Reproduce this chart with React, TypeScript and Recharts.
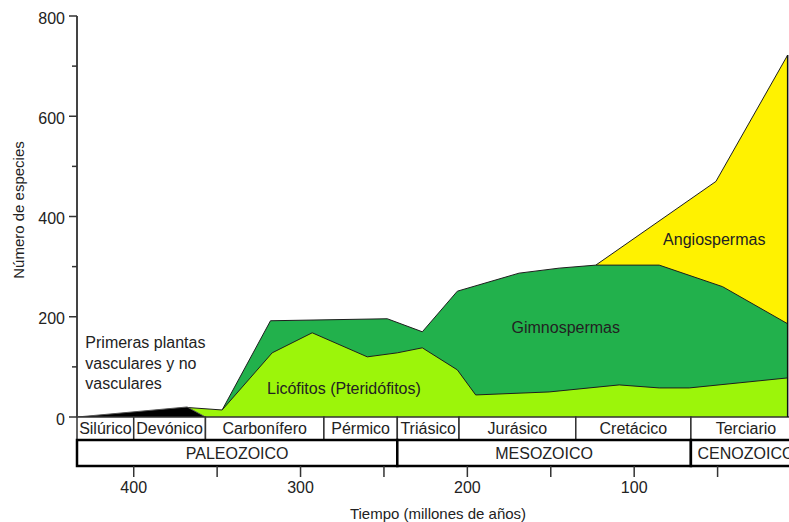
import {
  AreaChart,
  Area,
  XAxis,
  YAxis,
  ReferenceArea,
  ReferenceDot,
  ReferenceLine,
} from 'recharts'

const FONT = '"Liberation Sans", Arial, sans-serif'
const INK = '#222'
const EDGE = '#1e1e1e'

// band tops: age in millions of years, top of band in species
const primerasAge = [434, 368, 357]
const primerasTop = [0, 20, 0]
const licofitosAge = [368, 347, 317, 293, 260, 242, 227, 206, 195, 151, 109, 85, 67, 8]
const licofitosTop = [19, 14, 128, 168, 120, 128, 138, 94, 44, 50, 64, 58, 58, 78]
const gimnoAge = [347, 318, 248, 227, 206, 169, 145, 123, 85, 47, 8]
const gimnoTop = [14, 192, 196, 170, 251, 287, 297, 303, 303, 260, 186]
const angioAge = [123, 51, 8]
const angioTop = [303, 470, 722]

const periodName = ['Silúrico', 'Devónico', 'Carbonífero', 'Pérmico', 'Triásico', 'Jurásico', 'Cretácico', 'Terciario']
const periodStart = [434, 400, 357, 286, 242, 205, 135, 66]
const periodEnd = [400, 357, 286, 242, 205, 135, 66, 0]
const eraName = ['PALEOZOICO', 'MESOZOICO', 'CENOZOICO']
const eraStart = [434, 242, 66]
const eraEnd = [242, 66, 0]

const timeTicks = [400, 350, 300, 250, 200, 150, 100, 50, 0]
const speciesTicks = [0, 100, 200, 300, 400, 500, 600, 700, 800]

// band captions: text, age, species level
const captionText = ['Licófitos (Pteridófitos)', 'Gimnospermas', 'Angiospermas']
const captionAge = [274, 141, 52]
const captionLevel = [58, 178, 355]
const noteLines = ['Primeras plantas', 'vasculares y no', 'vasculares']
const noteLevel = [148, 108, 68]

const pts = (ages: number[], tops: number[]) => ages.map((age, i) => ({ age, top: tops[i] }))

const COLORS = {
  primeras: '#000000',
  licofitos: '#9cf50a',
  gimno: '#22b14c',
  angio: '#fff200',
}

function TimeTick({ x, y, payload }: any) {
  const major = payload.value % 100 === 0
  return (
    <g>
      <line x1={x} x2={x} y1={y + 49} y2={y + 60} stroke="#333" strokeWidth={1.5} />
      {major && (
        <text x={x} y={y + 70} textAnchor="middle" dominantBaseline="central" fontSize={16} fill={INK} fontFamily={FONT}>
          {payload.value}
        </text>
      )}
    </g>
  )
}

function SpeciesTick({ x, y, payload }: any) {
  const major = payload.value % 200 === 0
  return (
    <g>
      <line x1={x - (major ? 8 : 5)} x2={x} y1={y} y2={y} stroke="#333" strokeWidth={1.5} />
      {major && (
        <text x={x - 12} y={y + 2} textAnchor="end" dominantBaseline="central" fontSize={16} fill={INK} fontFamily={FONT}>
          {payload.value}
        </text>
      )}
    </g>
  )
}

const YTitle = () => (
  <text x={18} y={210} transform="rotate(-90, 18, 210)" textAnchor="middle" dominantBaseline="central" fontSize={15} fill={INK} fontFamily={FONT}>
    Número de especies
  </text>
)

const XTitle = () => (
  <text x={438} y={513} textAnchor="middle" dominantBaseline="central" fontSize={15} fill={INK} fontFamily={FONT}>
    Tiempo (millones de años)
  </text>
)

export default function App() {
  return (
    <>
      <style>{'html,body{margin:0;padding:0;overflow:hidden;background:#fff}'}</style>
      <div style={{ width: 789, height: 522, overflow: 'hidden', position: 'relative', background: '#fff' }}>
        <AreaChart width={812} height={522} margin={{ top: 16, right: 11, bottom: 0, left: 0 }} style={{ fontFamily: FONT }}>
          <XAxis
            type="number"
            dataKey="age"
            domain={[0, 434]}
            reversed
            ticks={timeTicks}
            interval={0}
            height={105}
            axisLine={false}
            tickLine={false}
            tickSize={0}
            tickMargin={0}
            tick={<TimeTick />}
            label={{ content: XTitle }}
          />
          <YAxis
            type="number"
            domain={[0, 800]}
            ticks={speciesTicks}
            interval={0}
            width={77}
            axisLine={{ stroke: '#444', strokeWidth: 2 }}
            tickLine={false}
            tickSize={0}
            tickMargin={0}
            tick={<SpeciesTick />}
            label={{ content: YTitle }}
          />

          <Area data={pts(angioAge, angioTop)} dataKey="top" type="linear" fill={COLORS.angio} fillOpacity={1} stroke={EDGE} strokeWidth={1} dot={false} activeDot={false} isAnimationActive={false} />
          <Area data={pts(gimnoAge, gimnoTop)} dataKey="top" type="linear" fill={COLORS.gimno} fillOpacity={1} stroke={EDGE} strokeWidth={1} dot={false} activeDot={false} isAnimationActive={false} />
          <Area data={pts(licofitosAge, licofitosTop)} dataKey="top" type="linear" fill={COLORS.licofitos} fillOpacity={1} stroke={EDGE} strokeWidth={1} dot={false} activeDot={false} isAnimationActive={false} />
          <Area data={pts(primerasAge, primerasTop)} dataKey="top" type="linear" fill={COLORS.primeras} fillOpacity={1} stroke="#555" strokeWidth={1} dot={false} activeDot={false} isAnimationActive={false} />

          <ReferenceLine
            segment={[
              { x: angioAge[angioAge.length - 1], y: 0 },
              { x: angioAge[angioAge.length - 1], y: angioTop[angioTop.length - 1] },
            ]}
            stroke="#111"
            strokeWidth={1.5}
            ifOverflow="visible"
          />

          {periodName.map((name, i) => (
            <ReferenceArea
              key={name}
              x1={periodStart[i]}
              x2={periodEnd[i]}
              y1={0}
              y2={-46}
              ifOverflow="visible"
              fill="#fff"
              fillOpacity={1}
              stroke="#333"
              strokeWidth={1.5}
              label={{ value: name, position: 'center', fill: INK, fontSize: 16, fontFamily: FONT }}
            />
          ))}
          {eraName.map((name, i) => (
            <ReferenceArea
              key={name}
              x1={eraStart[i]}
              x2={eraEnd[i]}
              y1={-46}
              y2={-98}
              ifOverflow="visible"
              fill="#fff"
              fillOpacity={1}
              stroke="#000"
              strokeWidth={2.5}
              label={{ value: name, position: 'center', fill: INK, fontSize: 16, fontFamily: FONT }}
            />
          ))}

          {noteLines.map((line, i) => (
            <ReferenceDot
              key={line}
              x={429}
              y={noteLevel[i]}
              r={0}
              stroke="none"
              fill="none"
              label={{ value: line, position: 'right', offset: 0, fill: INK, fontSize: 16, fontFamily: FONT }}
            />
          ))}
          {captionText.map((text, i) => (
            <ReferenceDot
              key={text}
              x={captionAge[i]}
              y={captionLevel[i]}
              r={0}
              stroke="none"
              fill="none"
              label={{ value: text, position: 'center', fill: INK, fontSize: 16, fontFamily: FONT }}
            />
          ))}
        </AreaChart>
      </div>
    </>
  )
}
